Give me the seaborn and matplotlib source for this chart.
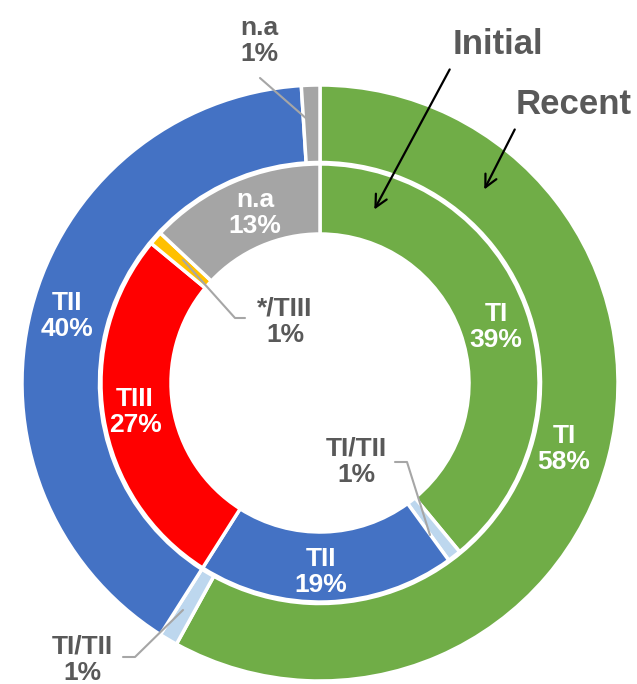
import matplotlib
matplotlib.use("Agg")
import matplotlib.pyplot as plt
import seaborn as sns

# 外側リング（Recent）と内側リング（Initial）
recent_labels = ["TI", "TI/TII", "TII", "n.a"]
recent_values = [58, 1, 40, 1]
recent_colors = ["#70AD47", "#BDD7EE", "#4472C4", "#A5A5A5"]

initial_labels = ["TI", "TI/TII", "TII", "TIII", "*/TIII", "n.a"]
initial_values = [39, 1, 19, 27, 1, 13]
initial_colors = ["#70AD47", "#BDD7EE", "#4472C4", "#FF0000", "#FFC000", "#A5A5A5"]

GRAY = "#595959"

# 画像上のピクセル位置 -> データ座標
CX, CY, R = 320, 383, 298
W, H = 637, 684


def px(x, y):
    return ((x - CX) / R, (CY - y) / R)


def main():
    sns.set_style("white")
    plt.rcParams["font.family"] = ["Liberation Sans", "DejaVu Sans"]

    fig = plt.figure(figsize=(W / 100, H / 100), dpi=100)
    ax = fig.add_axes([0, 0, 1, 1])

    wedge_kw = dict(edgecolor="white", linewidth=2.5)
    ax.pie(recent_values, colors=recent_colors, radius=1.0, startangle=90,
           counterclock=False, wedgeprops=dict(width=0.26, **wedge_kw))
    ax.pie(initial_values, colors=initial_colors, radius=0.735, startangle=90,
           counterclock=False, wedgeprops=dict(width=0.235, **wedge_kw))

    ax.set_xlim(-CX / R, (W - CX) / R)
    ax.set_ylim(-(H - CY) / R, CY / R)
    ax.set_aspect("equal")
    ax.axis("off")

    fs = 19
    txt = dict(fontsize=fs, fontweight="bold", ha="center", va="center", linespacing=1.15)

    # リング内のラベル（白）
    inside = [
        ("TI\n58%", 564, 449),
        ("TII\n40%", 67, 316),
        ("TI\n39%", 496, 327),
        ("TII\n19%", 321, 572),
        ("TIII\n27%", 135, 412),
        ("n.a\n13%", 255, 213),
    ]
    for s, x, y in inside:
        ax.text(*px(x, y), s, color="white", **txt)

    # 外側ラベル（灰色）と引き出し線
    outside = [
        ("n.a\n1%", 259, 41, [(260, 78), (308, 120)]),
        ("*/TIII\n1%", 285, 322, [(245, 318), (235, 318), (183, 260)]),
        ("TI/TII\n1%", 356, 462, [(395, 462), (407, 462), (430, 535)]),
        ("TI/TII\n1%", 82, 660, [(123, 657), (135, 657), (183, 610)]),
    ]
    for s, x, y, pts in outside:
        ax.text(*px(x, y), s, color=GRAY, **txt)
        xs, ys = zip(*[px(a, b) for a, b in pts])
        ax.plot(xs, ys, color="#A6A6A6", linewidth=1.5)

    # Initial / Recent の矢印
    ax.text(*px(498, 44), "Initial", color=GRAY, fontsize=25, fontweight="bold",
            ha="center", va="center")
    ax.text(*px(574, 105), "Recent", color=GRAY, fontsize=25, fontweight="bold",
            ha="center", va="center")
    arrow = dict(arrowstyle="->", color="black", lw=1.6, mutation_scale=22)
    ax.annotate("", xy=px(373, 212), xytext=px(451, 67), arrowprops=arrow)
    ax.annotate("", xy=px(483, 192), xytext=px(516, 127), arrowprops=arrow)

    fig.savefig("out.png", dpi=100)


if __name__ == "__main__":
    main()
